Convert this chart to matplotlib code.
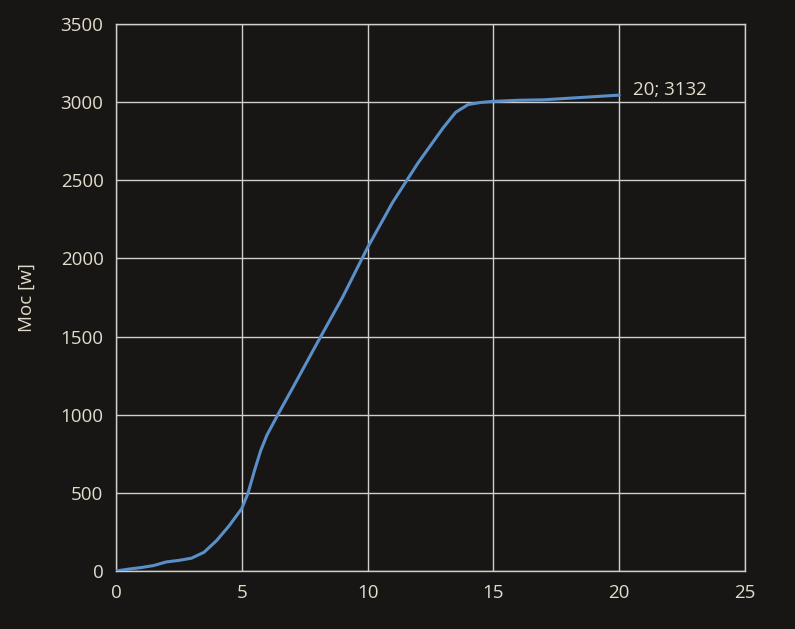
import matplotlib
matplotlib.use("Agg")
import matplotlib.pyplot as plt

x_vals = [0, 0.5, 1, 1.5, 2, 2.5, 3, 3.5, 4, 4.5, 5, 5.25, 5.5, 5.75, 6, 6.5, 7, 8, 9, 10, 11, 12, 13, 13.5, 14, 14.5, 15, 16, 17, 18, 19, 20]
y_vals = [0, 12, 22, 35, 58, 68, 82, 120, 195, 290, 400, 500, 640, 770, 870, 1020, 1165, 1460, 1750, 2070, 2360, 2610, 2835, 2935, 2985, 2998, 3005, 3012, 3015, 3025, 3035, 3045]
label_text = "20; 3132"
x_ticks = [0, 5, 10, 15, 20, 25]
y_ticks = [0, 500, 1000, 1500, 2000, 2500, 3000, 3500]

bg = "#171615"
fg = "#e2dccb"
grid_c = "#cfcfcf"
line_c = "#5a8fc8"

plt.rcParams['font.family'] = ['Open Sans', 'DejaVu Sans']
fig = plt.figure(figsize=(7.95, 6.29), dpi=100, facecolor=bg)
ax = fig.add_axes([116/795, 1-571/629, (745-116)/795, (571-24)/629])
ax.set_facecolor(bg)
ax.plot(x_vals, y_vals, color=line_c, lw=2.2, solid_capstyle='round', zorder=3)
ax.annotate(label_text, (x_vals[-1], y_vals[-1]), xytext=(10, 4), textcoords='offset points',
            color=fg, fontsize=13.5, va='center', ha='left')
ax.set_xlim(0, 25)
ax.set_ylim(0, 3500)
ax.set_xticks(x_ticks)
ax.set_yticks(y_ticks)
ax.grid(True, color=grid_c, lw=1)
for s in ax.spines.values():
    s.set_color(grid_c)
    s.set_linewidth(1)
ax.tick_params(length=0, colors=fg, labelsize=13.5, pad=9)
ax.set_ylabel("Moc [w]", color=fg, fontsize=13.5, labelpad=18)
fig.savefig("out.png", dpi=100, facecolor=bg)
